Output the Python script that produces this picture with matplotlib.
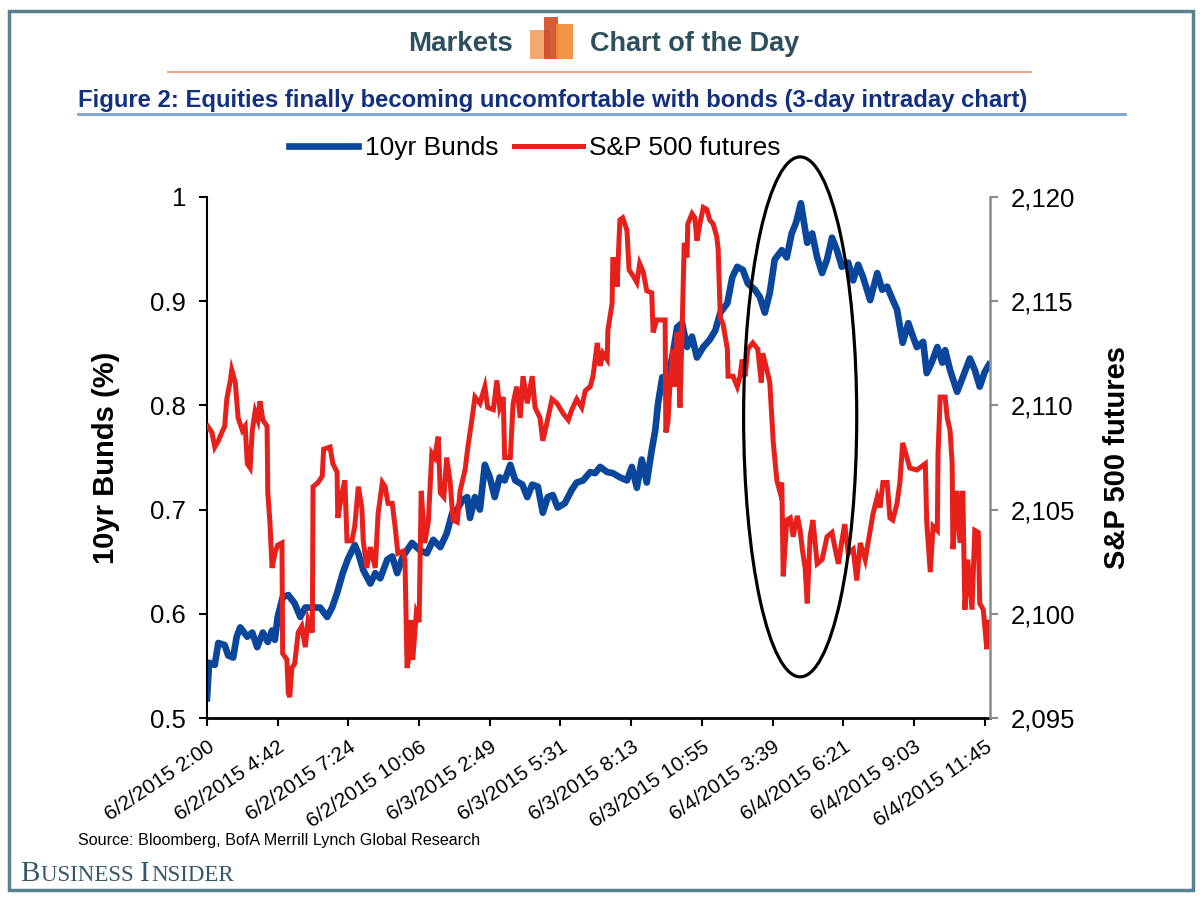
import numpy as np
from matplotlib import pyplot as plt
from matplotlib import font_manager
from matplotlib.patches import Ellipse, Rectangle
from matplotlib.lines import Line2D

# x positions are in tick units (0 = 6/2/2015 2:00, 1 = next tick label, ...)
tick_labels = ["6/2/2015 2:00", "6/2/2015 4:42", "6/2/2015 7:24", "6/2/2015 10:06",
               "6/3/2015 2:49", "6/3/2015 5:31", "6/3/2015 8:13", "6/3/2015 10:55",
               "6/4/2015 3:39", "6/4/2015 6:21", "6/4/2015 9:03", "6/4/2015 11:45"]

bund_t = [0.00, 0.03, 0.11, 0.16, 0.25, 0.30, 0.37, 0.42, 0.47, 0.57, 0.64, 0.71, 0.79, 0.86,
          0.92, 0.96, 1.00, 1.07, 1.15, 1.24, 1.32, 1.39, 1.50, 1.60, 1.70, 1.77, 1.84, 1.92,
          1.99, 2.09, 2.14, 2.21, 2.31, 2.38, 2.45, 2.55, 2.62, 2.69, 2.77, 2.90, 3.01, 3.11,
          3.20, 3.30, 3.39, 3.47, 3.54, 3.61, 3.68, 3.72, 3.79, 3.86, 3.93, 4.00, 4.07, 4.14,
          4.21, 4.29, 4.36, 4.46, 4.53, 4.60, 4.68, 4.75, 4.82, 4.89, 4.96, 5.06, 5.16, 5.23,
          5.32, 5.42, 5.49, 5.56, 5.66, 5.74, 5.84, 5.94, 6.01, 6.08, 6.15, 6.22, 6.29, 6.34,
          6.38, 6.44, 6.51, 6.58, 6.65, 6.72, 6.79, 6.86, 6.93, 7.02, 7.11, 7.19, 7.26, 7.36,
          7.43, 7.50, 7.58, 7.65, 7.75, 7.82, 7.89, 7.96, 8.03, 8.13, 8.20, 8.27, 8.33, 8.40,
          8.49, 8.56, 8.63, 8.70, 8.77, 8.84, 8.91, 8.98, 9.07, 9.14, 9.21, 9.28, 9.38, 9.48,
          9.55, 9.62, 9.70, 9.76, 9.84, 9.92, 9.97, 10.04, 10.13, 10.18, 10.25, 10.33, 10.40,
          10.44, 10.51, 10.61, 10.69, 10.79, 10.86, 10.93, 11.00, 11.06]
bund_v = [0.519, 0.553, 0.551, 0.572, 0.570, 0.560, 0.558, 0.578, 0.587, 0.578, 0.582, 0.568,
          0.582, 0.573, 0.584, 0.575, 0.597, 0.616, 0.618, 0.610, 0.597, 0.606, 0.606, 0.606,
          0.597, 0.606, 0.620, 0.639, 0.652, 0.666, 0.658, 0.642, 0.629, 0.639, 0.634, 0.652,
          0.655, 0.639, 0.655, 0.668, 0.661, 0.658, 0.671, 0.664, 0.677, 0.697, 0.700, 0.709,
          0.712, 0.692, 0.712, 0.700, 0.743, 0.731, 0.712, 0.731, 0.728, 0.743, 0.728, 0.724,
          0.712, 0.724, 0.722, 0.697, 0.712, 0.714, 0.702, 0.706, 0.719, 0.726, 0.728, 0.736,
          0.735, 0.741, 0.736, 0.735, 0.731, 0.728, 0.741, 0.721, 0.748, 0.726, 0.757, 0.776,
          0.802, 0.827, 0.827, 0.846, 0.875, 0.879, 0.856, 0.866, 0.846, 0.856, 0.863, 0.872,
          0.889, 0.898, 0.923, 0.933, 0.930, 0.917, 0.911, 0.904, 0.889, 0.908, 0.940, 0.949,
          0.942, 0.965, 0.975, 0.994, 0.956, 0.965, 0.942, 0.927, 0.940, 0.961, 0.949, 0.933,
          0.937, 0.920, 0.935, 0.923, 0.901, 0.927, 0.911, 0.914, 0.901, 0.892, 0.860, 0.879,
          0.869, 0.856, 0.861, 0.831, 0.841, 0.856, 0.841, 0.853, 0.834, 0.813, 0.827, 0.845,
          0.834, 0.818, 0.832, 0.839]

spx_t = [0.01, 0.07, 0.11, 0.16, 0.21, 0.25, 0.28, 0.33, 0.35, 0.40, 0.44, 0.50, 0.54, 0.57,
         0.61, 0.64, 0.68, 0.72, 0.75, 0.79, 0.85, 0.86, 0.89, 0.92, 0.96, 1.00, 1.06, 1.07,
         1.13, 1.15, 1.17, 1.20, 1.24, 1.29, 1.34, 1.39, 1.43, 1.49, 1.50, 1.57, 1.63, 1.65,
         1.74, 1.78, 1.84, 1.85, 1.91, 1.95, 1.98, 2.05, 2.09, 2.14, 2.19, 2.21, 2.26, 2.31,
         2.38, 2.42, 2.48, 2.52, 2.56, 2.62, 2.66, 2.70, 2.77, 2.80, 2.83, 2.86, 2.89, 2.91,
         2.96, 3.00, 3.03, 3.08, 3.13, 3.18, 3.22, 3.27, 3.30, 3.35, 3.39, 3.44, 3.48, 3.54,
         3.58, 3.65, 3.69, 3.75, 3.79, 3.86, 3.93, 3.97, 4.05, 4.10, 4.14, 4.19, 4.21, 4.29,
         4.33, 4.38, 4.43, 4.47, 4.53, 4.60, 4.64, 4.71, 4.75, 4.81, 4.88, 4.95, 5.04, 5.11,
         5.16, 5.23, 5.30, 5.35, 5.42, 5.46, 5.52, 5.56, 5.60, 5.66, 5.67, 5.73, 5.74, 5.79,
         5.80, 5.84, 5.88, 5.94, 5.97, 6.03, 6.08, 6.12, 6.17, 6.22, 6.29, 6.31, 6.36, 6.48,
         6.49, 6.52, 6.55, 6.59, 6.62, 6.65, 6.69, 6.72, 6.75, 6.79, 6.80, 6.86, 6.90, 6.93,
         6.97, 7.02, 7.07, 7.11, 7.16, 7.21, 7.23, 7.26, 7.30, 7.36, 7.37, 7.44, 7.50, 7.54,
         7.57, 7.61, 7.65, 7.72, 7.79, 7.84, 7.86, 7.92, 7.96, 8.01, 8.06, 8.10, 8.13, 8.15,
         8.20, 8.25, 8.29, 8.35, 8.39, 8.42, 8.46, 8.49, 8.53, 8.57, 8.63, 8.70, 8.77, 8.84,
         8.88, 8.93, 8.98, 9.02, 9.07, 9.14, 9.19, 9.24, 9.31, 9.38, 9.42, 9.48, 9.52, 9.56,
         9.62, 9.66, 9.70, 9.76, 9.80, 9.84, 9.90, 9.94, 10.04, 10.16, 10.18, 10.23, 10.27,
         10.33, 10.34, 10.37, 10.44, 10.47, 10.51, 10.54, 10.55, 10.61, 10.65, 10.69, 10.72,
         10.76, 10.82, 10.86, 10.91, 10.93, 10.98, 11.03, 11.06]
spx_v = [2109.0, 2108.7, 2108.0, 2108.3, 2108.7, 2109.0, 2110.3, 2111.2, 2111.7, 2111.1,
         2109.4, 2108.8, 2109.0, 2107.2, 2107.0, 2108.8, 2109.7, 2109.3, 2110.2, 2109.3,
         2109.0, 2105.8, 2104.4, 2102.2, 2102.9, 2103.3, 2103.4, 2098.1, 2097.8, 2096.2,
         2096.0, 2097.4, 2097.6, 2099.1, 2099.4, 2098.4, 2099.7, 2099.1, 2106.1, 2106.3,
         2106.6, 2107.9, 2108.0, 2107.2, 2106.8, 2104.6, 2105.8, 2106.4, 2103.5, 2103.5,
         2104.2, 2106.1, 2105.1, 2103.5, 2102.2, 2103.2, 2102.2, 2104.8, 2106.3, 2106.1,
         2105.3, 2105.3, 2104.2, 2102.9, 2103.0, 2102.6, 2097.4, 2098.0, 2099.7, 2097.8,
         2100.0, 2099.6, 2105.9, 2103.4, 2104.4, 2107.7, 2107.5, 2108.5, 2105.8, 2105.6,
         2107.5, 2106.3, 2104.5, 2104.4, 2105.9, 2106.9, 2108.0, 2109.4, 2110.4, 2110.1,
         2110.9, 2109.9, 2109.8, 2111.2, 2109.9, 2110.4, 2107.5, 2107.5, 2110.1, 2110.9,
         2109.4, 2111.4, 2110.1, 2111.4, 2109.9, 2109.4, 2108.3, 2109.2, 2110.3, 2110.1,
         2109.6, 2109.3, 2109.8, 2110.3, 2109.9, 2110.7, 2110.9, 2111.4, 2113.0, 2111.9,
         2112.5, 2112.2, 2113.6, 2114.9, 2117.0, 2117.0, 2115.7, 2118.9, 2119.0, 2118.4,
         2116.5, 2116.2, 2115.9, 2116.8, 2116.4, 2115.5, 2115.4, 2113.5, 2114.1, 2114.1,
         2108.7, 2109.2, 2111.1, 2112.7, 2110.9, 2113.5, 2109.9, 2113.6, 2117.8, 2117.1,
         2118.7, 2119.2, 2119.0, 2117.9, 2118.7, 2119.5, 2119.4, 2118.9, 2118.7, 2118.1,
         2117.5, 2114.2, 2113.9, 2112.7, 2111.4, 2111.4, 2110.9, 2111.4, 2112.2, 2111.4,
         2112.7, 2113.0, 2112.7, 2111.1, 2112.5, 2111.7, 2111.1, 2108.2, 2106.4, 2105.9,
         2106.3, 2101.8, 2104.5, 2104.6, 2103.7, 2104.7, 2104.0, 2103.1, 2102.2, 2100.5,
         2103.7, 2104.5, 2102.4, 2102.6, 2103.7, 2103.9, 2103.2, 2102.4, 2103.5, 2104.3,
         2102.9, 2103.1, 2101.6, 2103.4, 2102.6, 2104.0, 2104.8, 2105.6, 2105.1, 2106.3,
         2106.3, 2104.6, 2104.5, 2105.3, 2106.3, 2108.2, 2107.5, 2107.0, 2106.9, 2107.2,
         2104.4, 2102.0, 2104.2, 2104.0, 2107.7, 2110.4, 2110.4, 2109.4, 2108.8, 2107.2,
         2103.1, 2105.9, 2103.4, 2105.9, 2100.2, 2102.6, 2100.2, 2104.0, 2103.9, 2100.5,
         2100.2, 2098.3, 2099.6]

names = {f.name for f in font_manager.fontManager.ttflist}
SANS = 'Liberation Sans' if 'Liberation Sans' in names else 'DejaVu Sans'
SERIF = 'Liberation Serif' if 'Liberation Serif' in names else 'DejaVu Serif'
plt.rcParams['font.family'] = [SANS, 'DejaVu Sans']

W, H = 1200, 900


def fx(px):
    return px / W


def fy(py):
    return 1 - py / H


fig = plt.figure(figsize=(12, 9), dpi=100)
fig.patch.set_facecolor('white')

# frame
fig.add_artist(Rectangle((fx(9), fy(890)), fx(1193) - fx(9), fy(11) - fy(890),
                         transform=fig.transFigure, fill=False, ec='#5b8191', lw=2.5))

# header
fig.text(fx(513), fy(44), "Markets", ha='right', va='center', fontsize=20,
         fontweight='bold', color='#2e4f5e')
fig.text(fx(590), fy(44), "Chart of the Day", ha='left', va='center', fontsize=19.5,
         fontweight='bold', color='#2e4f5e')
for x0, x1, y0, col in [(530, 550, 30, '#f0a060'), (544, 558, 17, '#cf4a26'),
                        (556, 573, 24, '#f28a30')]:
    fig.add_artist(Rectangle((fx(x0), fy(59)), fx(x1) - fx(x0), fy(y0) - fy(59),
                             transform=fig.transFigure, fc=col, ec='none', alpha=0.9))
fig.add_artist(Line2D([fx(168), fx(1031)], [fy(72), fy(72)], transform=fig.transFigure,
                      color='#f2a58a', lw=1.5))

# title
fig.text(fx(78), fy(100), "Figure 2: Equities finally becoming uncomfortable with bonds "
         "(3-day intraday chart)", ha='left', va='center', fontsize=17.2,
         fontweight='bold', color='#13307f')
fig.add_artist(Line2D([fx(78), fx(1125)], [fy(114), fy(114)], transform=fig.transFigure,
                      color='#7aa3d8', lw=2))

# axes
ax = fig.add_axes([fx(207), fy(718), fx(990) - fx(207), fy(197) - fy(718)])
ax2 = ax.twinx()
ax.set_xlim(0, 11.075)
ax.set_ylim(0.5, 1.0)
ax2.set_ylim(2095, 2120)

ln1, = ax.plot(bund_t, bund_v, color='#0a479c', lw=4.8, solid_joinstyle='round')
ln2, = ax2.plot(spx_t, spx_v, color='#e8201c', lw=3.6, solid_joinstyle='miter')

for a in (ax, ax2):
    a.spines['top'].set_visible(False)
ax.spines['right'].set_visible(False)
ax2.spines['left'].set_visible(False)
ax2.spines['bottom'].set_visible(False)
ax.spines['left'].set_linewidth(1.5)
ax.spines['bottom'].set_linewidth(2)
ax2.spines['right'].set_color('#8a8a8a')
ax2.spines['right'].set_linewidth(1.8)

ax.set_yticks([0.5, 0.6, 0.7, 0.8, 0.9, 1.0])
ax.set_yticklabels(['0.5', '0.6', '0.7', '0.8', '0.9', '1'])
ax.tick_params(axis='y', direction='out', length=6, width=1.5, pad=9, labelsize=18.5)
ax2.set_yticks([2095, 2100, 2105, 2110, 2115, 2120])
ax2.set_yticklabels(['2,095', '2,100', '2,105', '2,110', '2,115', '2,120'])
ax2.tick_params(axis='y', direction='out', length=6, width=1.5, color='#8a8a8a',
                pad=9, labelsize=18.5)

ax.set_xticks(range(len(tick_labels)))
ax.set_xticklabels(tick_labels, rotation=34, ha='right', va='top',
                   rotation_mode='anchor', fontsize=15)
ax.tick_params(axis='x', direction='out', length=6, width=1.5, pad=8)

ax.set_ylabel("10yr Bunds (%)", fontsize=21, fontweight='bold', labelpad=22)
ax2.set_ylabel("S&P 500 futures", fontsize=21, fontweight='bold', labelpad=20)

# highlight ellipse (drawn in the Bunds axis coordinates, on top of both lines)
ell = Ellipse((8.39, 0.789), 1.60, 0.499, angle=0, fill=False, ec='black', lw=2.3,
              clip_on=False, zorder=10, transform=ax.transData)
ax2.add_patch(ell)

fig.legend([ln1, ln2], ["10yr Bunds", "S&P 500 futures"], loc='center',
           bbox_to_anchor=(fx(535), fy(148)), ncol=2, frameon=False, fontsize=19,
           handlelength=2.6, handletextpad=0.25, columnspacing=0.6)

fig.text(fx(78), fy(841), "Source: Bloomberg, BofA Merrill Lynch Global Research",
         ha='left', va='center', fontsize=11.6, color='black')

# Business Insider wordmark in small caps
bi_color = '#34586a'
fig.text(fx(20), fy(881), "B", ha='left', va='baseline', fontsize=21,
         family=SERIF, color=bi_color)
for part, size in [("USINESS ", 16.5), ("I", 21), ("NSIDER", 16.5)]:
    fig.canvas.draw()
    bb = fig.texts[-1].get_window_extent()
    fig.text(bb.x1 / W + 0.001, fy(881), part, fontsize=size, family=SERIF,
             color=bi_color, ha='left', va='baseline')

fig.savefig('out.png', dpi=100, facecolor='white')
